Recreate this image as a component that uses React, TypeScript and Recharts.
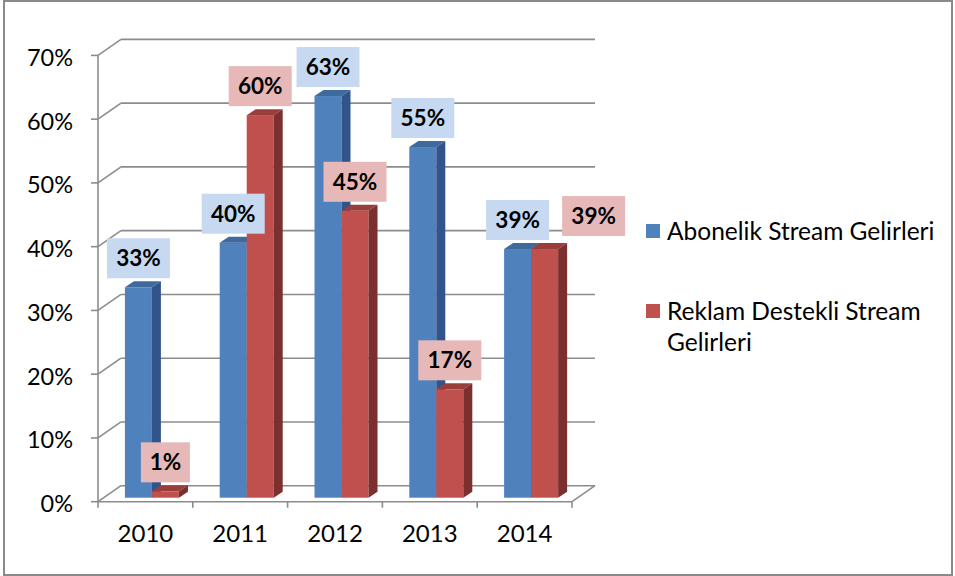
import React from "react";
import {
    BarChart,
    Bar,
    XAxis,
    YAxis,
    CartesianGrid,
    Legend,
    LabelList,
} from "recharts";

const categories = ["2010", "2011", "2012", "2013", "2014"];
const abonelik = [0.33, 0.40, 0.63, 0.55, 0.39];
const reklam = [0.01, 0.60, 0.45, 0.17, 0.39];
const yTicks = [0, 0.1, 0.2, 0.3, 0.4, 0.5, 0.6, 0.7];
const seriesNames = ["Abonelik Stream Gelirleri", "Reklam Destekli Stream Gelirleri"];

const data = categories.map((year, i) => ({
    year,
    abonelik: abonelik[i],
    reklam: reklam[i],
}));

const FONT = "Lato, 'Noto Sans', sans-serif";
const GRID = "#8c8c8c";

// 3d offsets relative to the plane of the bar front faces
const FRONT = { dx: -7, dy: 4 };
const BACK = { dx: 16, dy: -12 };
const BAR_DEPTH = { dx: 9, dy: 6 };

const colors = {
    abonelik: { front: "#4F81BD", top: "#3F6A9C", side: "#31558A", label: "#C6D9F1" },
    reklam: { front: "#C0504D", top: "#9A3E3C", side: "#7B2F2E", label: "#E6B9B8" },
};

const pct = (v: number) => `${Math.round(v * 100)}%`;

const make3dBar = (c: { front: string; top: string; side: string }) => (props: any) => {
    const { x, y, width, height } = props;
    if (x == null || y == null) return <g />;
    const { dx, dy } = BAR_DEPTH;
    return (
        <g>
            <rect x={x} y={y} width={width} height={height} fill={c.front} />
            <polygon
                points={`${x},${y} ${x + dx},${y - dy} ${x + width + dx},${y - dy} ${x + width},${y}`}
                fill={c.top}
            />
            <polygon
                points={`${x + width},${y} ${x + width + dx},${y - dy} ${x + width + dx},${y + height - dy} ${x + width},${y + height}`}
                fill={c.side}
            />
        </g>
    );
};

const boxW = (v: number) => 35 + 14 * String(Math.round(v * 100)).length;
const BOX_H = 40;
const GAP = 9;

const makeLabel = (series: "abonelik" | "reklam") => (props: any) => {
    const vb = props.viewBox || props;
    const { x, y, width, height } = vb;
    const value = props.value as number;
    const index = props.index as number;
    if (x == null || value == null) return null;
    const w = boxW(value);
    let cx = x + width / 2;
    let bottom = y - GAP;
    if (series === "reklam" && value > 0) {
        // avoid overlapping the neighbouring blue label
        const scale = height / value;
        const other = abonelik[index];
        const blueTop = y + height - other * scale;
        const blueBottom = blueTop - GAP;
        const blueCx = x - width / 2;
        const bw = boxW(other);
        if (Math.abs(blueBottom - bottom) < BOX_H && Math.abs(blueCx - cx) < (bw + w) / 2) {
            cx = blueCx + bw / 2 + 13 + w / 2;
            bottom = blueBottom - 4;
        }
    }
    return (
        <g>
            <rect x={cx - w / 2} y={bottom - BOX_H} width={w} height={BOX_H} fill={colors[series].label} />
            <text
                x={cx}
                y={bottom - BOX_H / 2}
                dy="0.36em"
                textAnchor="middle"
                fontFamily={FONT}
                fontWeight="bold"
                fontSize={22.5}
                fill="#000"
            >
                {pct(value)}
            </text>
        </g>
    );
};

const depthGridLine = (props: any) => {
    const { x1, x2, y1, y, height, width } = props;
    const fx = x1 + FRONT.dx;
    const fy = y1 + FRONT.dy;
    const bx = x1 + BACK.dx;
    const by = y1 + BACK.dy;
    const isBottom = Math.abs(y1 - (y + height)) < 1;
    const n = categories.length;
    return (
        <g key={props.key} stroke={GRID} strokeWidth={1.6} fill="none">
            <line x1={bx} y1={by} x2={x2 + BACK.dx} y2={by} />
            <line x1={fx} y1={fy} x2={bx} y2={by} />
            <line x1={fx - 7} y1={fy} x2={fx} y2={fy} />
            {isBottom && (
                <g>
                    <line x1={fx} y1={fy} x2={x2 + FRONT.dx} y2={fy} />
                    <line x1={x2 + FRONT.dx} y1={fy} x2={x2 + BACK.dx} y2={by} />
                    <line x1={fx} y1={y + FRONT.dy} x2={fx} y2={fy} />
                    {Array.from({ length: n + 1 }, (_, k) => (
                        <line key={k} x1={fx + (k * width) / n} y1={fy} x2={fx + (k * width) / n} y2={fy + 6} />
                    ))}
                </g>
            )}
        </g>
    );
};

const YTick = (props: any) => {
    const { x, y, payload } = props;
    return (
        <text x={x - 24} y={y + FRONT.dy + 2} dy="0.36em" textAnchor="end" fontFamily={FONT} fontSize={23.5} fill="#000">
            {pct(payload.value)}
        </text>
    );
};

const XTick = (props: any) => {
    const { x, y, payload } = props;
    return (
        <text x={x + FRONT.dx} y={y + 28} dy="0.36em" textAnchor="middle" fontFamily={FONT} fontSize={24} fill="#000">
            {payload.value}
        </text>
    );
};

const LegendContent = () => (
    <div style={{ fontFamily: FONT, fontSize: 24.5, lineHeight: "31px", color: "#000" }}>
        {[
            { name: seriesNames[0], color: colors.abonelik.front },
            { name: seriesNames[1], color: colors.reklam.front },
        ].map((item, i) => (
            <div key={i} style={{ display: "flex", alignItems: "flex-start", marginBottom: i === 0 ? 49 : 0 }}>
                <div style={{ width: 14, height: 14, background: item.color, marginTop: 9, marginRight: 7, flex: "none" }} />
                <div style={{ width: 295 }}>{item.name}</div>
            </div>
        ))}
    </div>
);

const App = () => {
    return (
        <div style={{ position: "absolute", left: 0, top: 0, width: 955, height: 576, background: "#fff" }}>
            <div
                style={{
                    position: "absolute",
                    left: 3,
                    top: 0,
                    width: 950,
                    height: 576,
                    border: "2px solid #8a8a8a",
                    boxSizing: "border-box",
                }}
            />
            <BarChart
                width={955}
                height={576}
                data={data}
                margin={{ top: 51.4, right: 376, left: 45, bottom: 48.3 }}
                barCategoryGap="21%"
                barGap={0}
            >
                <CartesianGrid vertical={false} horizontal={depthGridLine} />
                <XAxis
                    dataKey="year"
                    axisLine={false}
                    tickLine={false}
                    height={30}
                    tick={<XTick />}
                    interval={0}
                />
                <YAxis
                    domain={[0, 0.7]}
                    ticks={yTicks}
                    width={60}
                    axisLine={false}
                    tickLine={false}
                    tick={<YTick />}
                    interval={0}
                />
                <Legend
                    layout="vertical"
                    align="center"
                    verticalAlign="middle"
                    content={<LegendContent />}
                    wrapperStyle={{ left: 646, top: 215, width: 310 }}
                />
                <Bar
                    dataKey="abonelik"
                    name={seriesNames[0]}
                    fill={colors.abonelik.front}
                    shape={make3dBar(colors.abonelik)}
                    isAnimationActive={false}
                >
                    <LabelList dataKey="abonelik" content={makeLabel("abonelik")} />
                </Bar>
                <Bar
                    dataKey="reklam"
                    name={seriesNames[1]}
                    fill={colors.reklam.front}
                    shape={make3dBar(colors.reklam)}
                    isAnimationActive={false}
                >
                    <LabelList dataKey="reklam" content={makeLabel("reklam")} />
                </Bar>
            </BarChart>
        </div>
    );
};

export default App;
